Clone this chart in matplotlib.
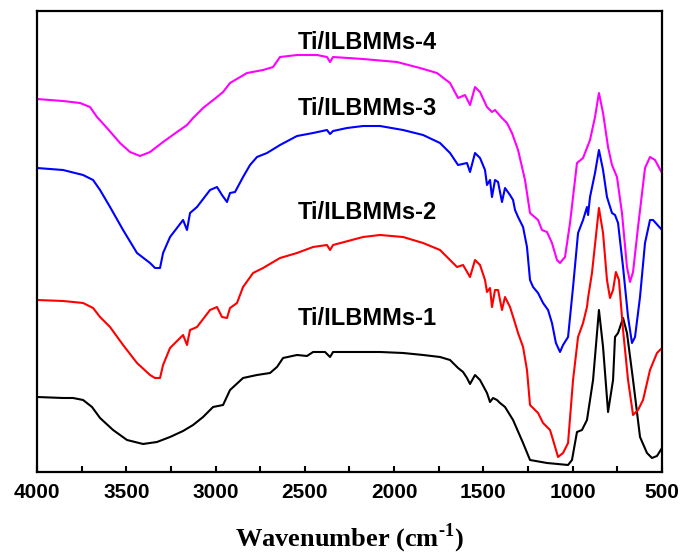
import matplotlib
matplotlib.use("Agg")
import matplotlib.pyplot as plt
from matplotlib.ticker import MultipleLocator

# (wavenumber cm-1, transmittance a.u.)
ilbmm_1 = [
    (4000, 75), (3854, 74), (3798, 74), (3742, 72), (3692, 65), (3647, 54),
    (3574, 42), (3496, 32), (3406, 28), (3328, 30), (3255, 35), (3182, 41),
    (3126, 47), (3070, 55), (3014, 65), (2958, 67), (2919, 82), (2846, 94),
    (2768, 97), (2695, 99), (2656, 105), (2622, 114), (2544, 117), (2488, 116),
    (2454, 120), (2387, 120), (2359, 115), (2342, 120), (2264, 120), (2174, 120),
    (2079, 120), (1950, 119), (1838, 117), (1743, 115), (1687, 112), (1642, 104),
    (1614, 100), (1592, 94), (1575, 88), (1547, 97), (1519, 92), (1480, 79),
    (1463, 70), (1446, 74), (1424, 72), (1407, 69), (1379, 65), (1334, 52),
    (1278, 29), (1239, 12), (1144, 9), (1026, 7), (1004, 12), (976, 40),
    (948, 42), (920, 52), (886, 92), (853, 162), (830, 125), (802, 60),
    (774, 92), (763, 135), (746, 139), (718, 154), (696, 139), (662, 92),
    (623, 35), (584, 19), (556, 14), (528, 16), (500, 24),
]

ilbmm_2 = [
    (4000, 172), (3854, 171), (3742, 169), (3686, 164), (3647, 155), (3591, 145),
    (3518, 127), (3440, 109), (3367, 97), (3339, 94), (3311, 94), (3294, 107),
    (3255, 124), (3182, 137), (3160, 127), (3143, 142), (3104, 145), (3031, 162),
    (2992, 165), (2964, 155), (2936, 154), (2919, 164), (2880, 169), (2846, 185),
    (2790, 199), (2734, 204), (2639, 214), (2544, 219), (2454, 225), (2376, 227),
    (2359, 222), (2342, 227), (2174, 235), (2079, 237), (1950, 235), (1838, 229),
    (1743, 222), (1687, 212), (1648, 205), (1614, 207), (1575, 195), (1547, 212),
    (1519, 207), (1491, 192), (1480, 180), (1463, 184), (1452, 165), (1435, 182),
    (1418, 182), (1396, 162), (1379, 175), (1351, 165), (1323, 149), (1306, 139),
    (1278, 125), (1256, 102), (1239, 67), (1222, 64), (1194, 59), (1166, 49),
    (1127, 42), (1110, 32), (1082, 15), (1054, 19), (1026, 29), (998, 92),
    (970, 135), (942, 149), (920, 165), (914, 174), (892, 199), (853, 264),
    (830, 239), (808, 192), (791, 174), (774, 182), (758, 200), (741, 192),
    (718, 142), (690, 92), (662, 57), (634, 62), (606, 72), (567, 102),
    (528, 119), (500, 124),
]

ilbmm_3 = [
    (4000, 304), (3854, 302), (3742, 297), (3686, 292), (3647, 282), (3591, 265),
    (3518, 242), (3440, 219), (3367, 209), (3339, 204), (3311, 204), (3294, 219),
    (3255, 235), (3182, 252), (3160, 242), (3143, 259), (3104, 265), (3031, 282),
    (2992, 285), (2964, 277), (2936, 270), (2919, 279), (2891, 280), (2846, 295),
    (2807, 307), (2768, 315), (2712, 319), (2639, 327), (2544, 336), (2454, 339),
    (2376, 342), (2359, 338), (2342, 341), (2264, 344), (2174, 346), (2079, 346),
    (1950, 342), (1838, 337), (1743, 329), (1687, 319), (1642, 307), (1592, 309),
    (1575, 300), (1547, 319), (1519, 314), (1491, 302), (1480, 287), (1463, 292),
    (1452, 275), (1435, 292), (1418, 290), (1396, 270), (1379, 284), (1351, 277),
    (1334, 272), (1323, 262), (1306, 255), (1278, 245), (1256, 225), (1239, 192),
    (1222, 185), (1194, 179), (1166, 169), (1138, 162), (1116, 149), (1094, 129),
    (1071, 120), (1054, 127), (1026, 135), (998, 185), (970, 239), (942, 252),
    (920, 265), (914, 257), (903, 275), (875, 299), (853, 322), (830, 302),
    (808, 275), (780, 259), (763, 257), (746, 249), (718, 205), (690, 155),
    (668, 129), (651, 135), (623, 175), (595, 229), (567, 252), (550, 252),
    (500, 242),
]

ilbmm_4 = [
    (4000, 373), (3854, 371), (3759, 369), (3703, 365), (3664, 355), (3608, 344),
    (3535, 329), (3479, 320), (3423, 316), (3367, 320), (3294, 330), (3216, 340),
    (3160, 347), (3126, 354), (3070, 364), (2992, 375), (2958, 380), (2919, 389),
    (2824, 399), (2734, 402), (2678, 405), (2639, 415), (2544, 417), (2432, 417),
    (2376, 415), (2359, 410), (2342, 415), (2174, 413), (1984, 410), (1855, 404),
    (1760, 399), (1687, 389), (1642, 374), (1603, 377), (1575, 367), (1547, 385),
    (1519, 380), (1480, 365), (1452, 360), (1435, 362), (1396, 354), (1368, 349),
    (1340, 339), (1306, 322), (1267, 292), (1239, 259), (1194, 252), (1172, 242),
    (1144, 240), (1116, 229), (1088, 212), (1071, 209), (1043, 215), (1015, 249),
    (976, 309), (942, 314), (903, 332), (875, 355), (853, 379), (830, 359),
    (802, 325), (780, 307), (752, 295), (724, 259), (696, 205), (679, 190),
    (662, 200), (634, 245), (595, 304), (567, 315), (539, 312), (500, 299),
]

series = [ilbmm_1, ilbmm_2, ilbmm_3, ilbmm_4]
names = ["Ti/ILBMMs-1", "Ti/ILBMMs-2", "Ti/ILBMMs-3", "Ti/ILBMMs-4"]
colors = ["black", "red", "blue", "magenta"]
label_y = [153, 259, 364, 430]

plt.rcParams["mathtext.fontset"] = "custom"
plt.rcParams["mathtext.rm"] = "Liberation Serif:bold"
plt.rcParams["mathtext.bf"] = "Liberation Serif:bold"

fig = plt.figure(figsize=(6.84, 5.56), dpi=100)
ax = fig.add_axes([0.0541, 0.1511, 0.9137, 0.8291])

for data, c in zip(series, colors):
    wn, t = zip(*data)
    ax.plot(wn, t, color=c, lw=1.5)

for name, y in zip(names, label_y):
    ax.text(2150, y, name, ha="center", va="center", fontsize=17,
            fontweight="bold", family="Liberation Sans")

ax.set_xlim(4000, 500)
ax.set_ylim(0, 461)
ax.set_yticks([])
ax.xaxis.set_major_locator(MultipleLocator(500))
ax.xaxis.set_minor_locator(MultipleLocator(250))
ax.tick_params(axis="x", which="both", direction="in", length=4, width=1.5,
               top=False, pad=8)
for lab in ax.get_xticklabels():
    lab.set_fontsize(15)
    lab.set_fontweight("bold")
    lab.set_family("Liberation Sans")
for sp in ax.spines.values():
    sp.set_linewidth(1.6)

ax.set_xlabel("Wavenumber (cm$^{\\text{-1}}$)", fontsize=19, fontweight="bold",
              family="Liberation Serif", labelpad=14)

fig.savefig("out.png", dpi=100)
